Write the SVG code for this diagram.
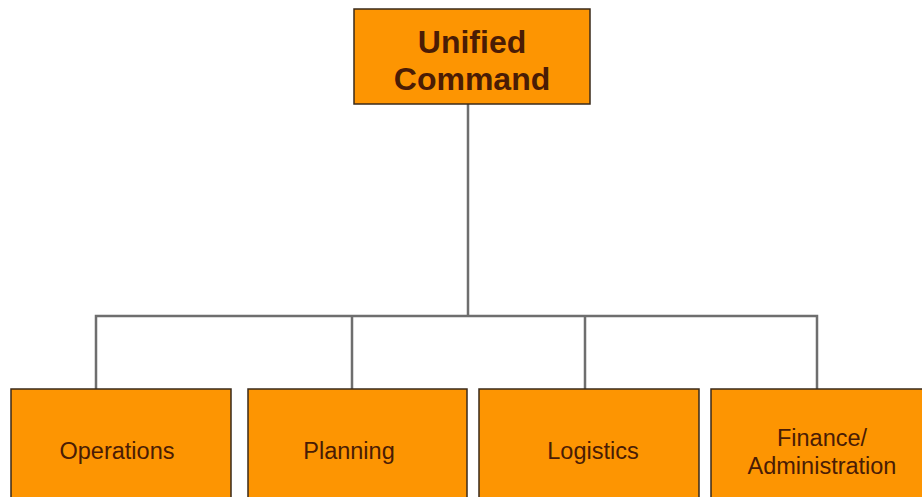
<svg xmlns="http://www.w3.org/2000/svg" width="922" height="497" viewBox="0 0 922 497">
<style>
.box{fill:#FD9502;stroke:#3a2a1a;stroke-width:1.5}
.t{font-family:"Liberation Sans",Arial,sans-serif;fill:#4a1c05;text-anchor:middle}
.small{font-size:23.5px}
.big{font-size:32px;font-weight:bold}
.conn{fill:none;stroke:#6e6e6e;stroke-width:2.5}
</style>
<rect width="922" height="497" fill="#fff"/>
<g id="connectors">
<path class="conn" d="M468,104 V316 M96,389 V316 H817 V389 M352,316 V389 M585,316 V389"/>
</g>
<g id="unified-command">
<rect class="box" x="354" y="9" width="236" height="95"/>
<text class="t big" x="472" y="53">Unified</text>
<text class="t big" x="472" y="90">Command</text>
</g>
<g id="operations">
<rect class="box" x="11" y="389" width="220" height="120"/>
<text class="t small" x="117" y="459">Operations</text>
</g>
<g id="planning">
<rect class="box" x="248" y="389" width="219" height="120"/>
<text class="t small" x="349" y="459">Planning</text>
</g>
<g id="logistics">
<rect class="box" x="479" y="389" width="220" height="120"/>
<text class="t small" x="593" y="459">Logistics</text>
</g>
<g id="finance-administration">
<rect class="box" x="711" y="389" width="220" height="120"/>
<text class="t small" x="822" y="446">Finance/</text>
<text class="t small" x="822" y="474">Administration</text>
</g>
</svg>
